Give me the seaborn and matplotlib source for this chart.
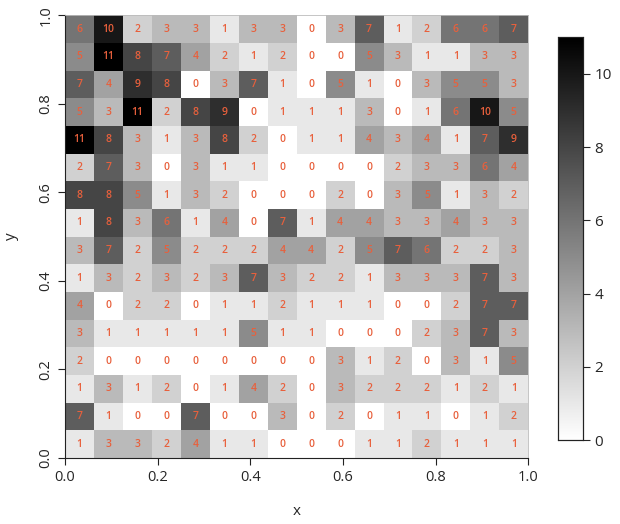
import numpy as np
import pandas as pd
import seaborn as sns
import matplotlib.pyplot as plt
from matplotlib.colors import LinearSegmentedColormap

# counts per cell, top row (y near 1.0) first
counts = [
    [6, 10, 2, 3, 3, 1, 3, 3, 0, 3, 7, 1, 2, 6, 6, 7],
    [5, 11, 8, 7, 4, 2, 1, 2, 0, 0, 5, 3, 1, 1, 3, 3],
    [7, 4, 9, 8, 0, 3, 7, 1, 0, 5, 1, 0, 3, 5, 5, 3],
    [5, 3, 11, 2, 8, 9, 0, 1, 1, 1, 3, 0, 1, 6, 10, 5],
    [11, 8, 3, 1, 3, 8, 2, 0, 1, 1, 4, 3, 4, 1, 7, 9],
    [2, 7, 3, 0, 3, 1, 1, 0, 0, 0, 0, 2, 3, 3, 6, 4],
    [8, 8, 5, 1, 3, 2, 0, 0, 0, 2, 0, 3, 5, 1, 3, 2],
    [1, 8, 3, 6, 1, 4, 0, 7, 1, 4, 4, 3, 3, 4, 3, 3],
    [3, 7, 2, 5, 2, 2, 2, 4, 4, 2, 5, 7, 6, 2, 2, 3],
    [1, 3, 2, 3, 2, 3, 7, 3, 2, 2, 1, 3, 3, 3, 7, 3],
    [4, 0, 2, 2, 0, 1, 1, 2, 1, 1, 1, 0, 0, 2, 7, 7],
    [3, 1, 1, 1, 1, 1, 5, 1, 1, 0, 0, 0, 2, 3, 7, 3],
    [2, 0, 0, 0, 0, 0, 0, 0, 0, 3, 1, 2, 0, 3, 1, 5],
    [1, 3, 1, 2, 0, 1, 4, 2, 0, 3, 2, 2, 2, 1, 2, 1],
    [7, 1, 0, 0, 7, 0, 0, 3, 0, 2, 0, 1, 1, 0, 1, 2],
    [1, 3, 3, 2, 4, 1, 1, 0, 0, 0, 1, 1, 2, 1, 1, 1],
]
tick_vals = [0.0, 0.2, 0.4, 0.6, 0.8, 1.0]
tick_labels = ["0.0", "0.2", "0.4", "0.6", "0.8", "1.0"]
cbar_ticks = [0, 2, 4, 6, 8, 10]

df = pd.DataFrame(counts)
n = df.shape[0]

sns.set_style("white")
plt.rcParams["font.family"] = ["Open Sans", "DejaVu Sans"]

cmap = LinearSegmentedColormap.from_list("wb", ["#ffffff", "#000000"])

fig = plt.figure(figsize=(6.2, 5.24), dpi=100)
ax = fig.add_axes([0.105, 0.126, 0.747, 0.845])
cax = fig.add_axes([0.90, 0.160, 0.040, 0.769])

sns.heatmap(df, ax=ax, cbar_ax=cax, cmap=cmap, vmin=0, vmax=11,
            annot=True, fmt="d",
            annot_kws={"color": "#e8603c", "fontsize": 7.5,
                       "fontweight": "semibold"},
            cbar_kws={"ticks": cbar_ticks})

pos = [v * n for v in tick_vals]
ax.set_xticks(pos)
ax.set_xticklabels(tick_labels, rotation=0, fontsize=10.5)
ax.set_yticks([n - p for p in pos])
ax.set_yticklabels(tick_labels, rotation=90, va="center", fontsize=10.5)
ax.tick_params(length=5, width=0.8, color="#222222", direction="out",
               bottom=True, left=True)
ax.set_xlabel("x", fontsize=11, labelpad=14)
ax.set_ylabel("y", fontsize=11, labelpad=14)
for side in ["bottom", "left"]:
    ax.spines[side].set_visible(True)
    ax.spines[side].set_color("#222222")
    ax.spines[side].set_linewidth(0.8)
for side in ["top", "right"]:
    ax.spines[side].set_visible(True)
    ax.spines[side].set_color("#bbbbbb")
    ax.spines[side].set_linewidth(0.6)

cax.tick_params(labelsize=11, length=5, width=0.8, direction="out")
for sp in cax.spines.values():
    sp.set_visible(True)
    sp.set_color("#222222")
    sp.set_linewidth(0.8)

fig.savefig("out.png", dpi=100)
plt.close(fig)
